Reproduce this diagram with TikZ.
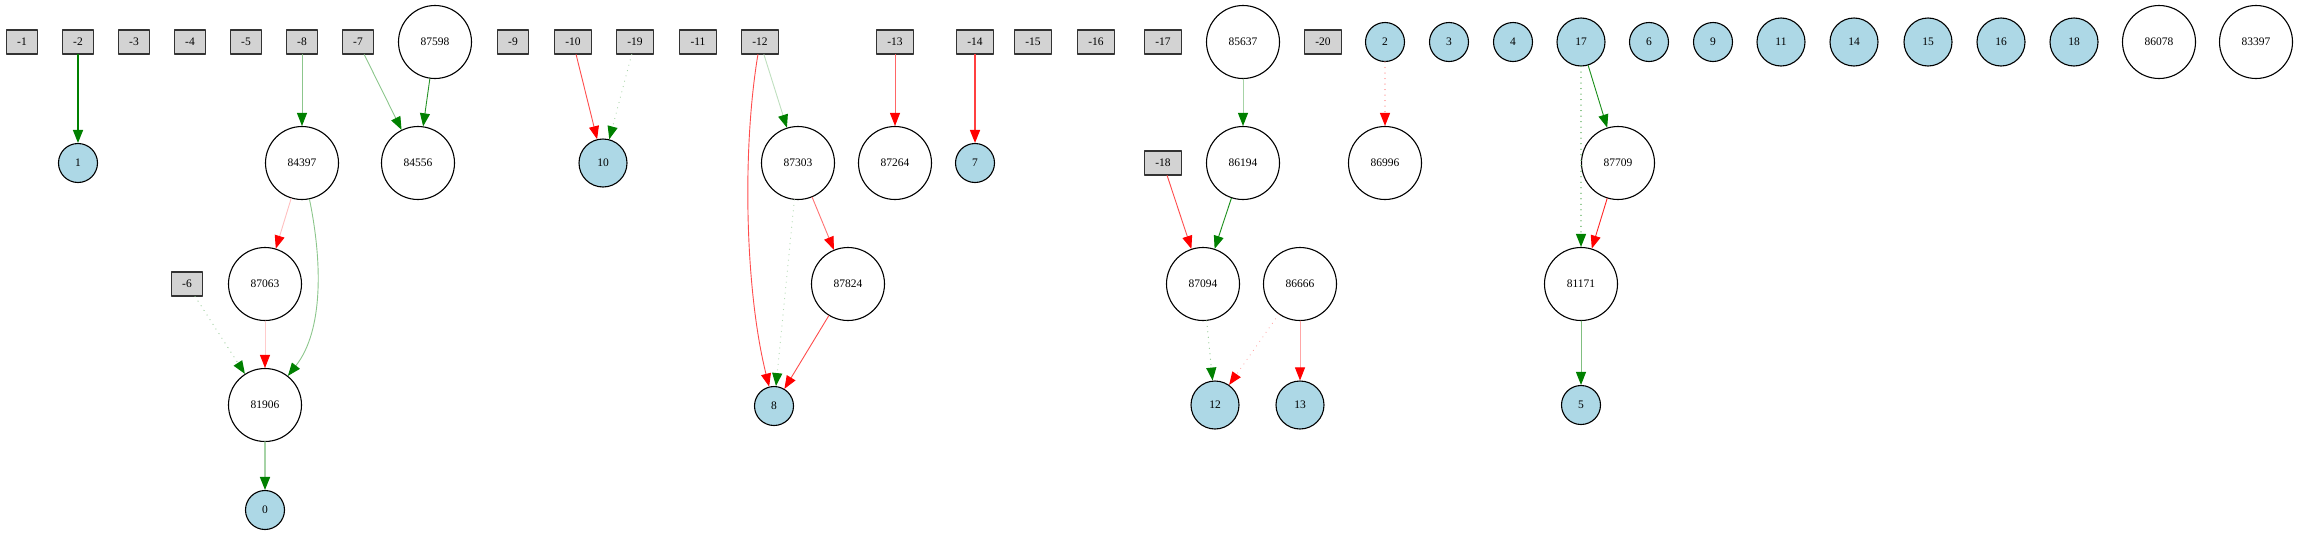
\documentclass[tikz,border=0pt]{standalone}
\usepackage{fontspec}
\setmainfont{Liberation Serif}
\usetikzlibrary{arrows.meta}
\definecolor{inputfill}{HTML}{D3D3D3}
\definecolor{outputfill}{HTML}{ADD8E6}
\definecolor{posgreen}{HTML}{008000}
\definecolor{negred}{HTML}{FF0000}
\tikzset{
  basenode/.style={
    draw=black,
    line width=1.1pt,
    inner sep=0pt,
    font=\fontsize{11.5}{13}\selectfont,
    align=center,
  },
  inbox/.style={basenode, rectangle, fill=inputfill, draw=black!80, minimum height=24pt, inner xsep=11pt},
  outnode/.style={basenode, circle, fill=outputfill, minimum size=39pt},
  outwide/.style={outnode, minimum size=48pt},
  hidnode/.style={basenode, circle, fill=white, minimum size=73pt},
  link/.style={line width=0.9pt},
  dotlink/.style={line width=1.2pt, dash pattern=on 0.01pt off 5.5pt},
  posedge/.style={link, draw=posgreen!#1, -{Triangle[length=13pt, width=10pt, color=posgreen]}},
  posedge/.default=100,
  negedge/.style={link, draw=negred!#1, -{Triangle[length=13pt, width=10pt, color=negred]}},
  negedge/.default=100,
}

\begin{document}
\begin{tikzpicture}[x=1pt, y=-1pt, line cap=round, line join=round]
  \useasboundingbox (0,0) rectangle (2300,536);

  % inputs and top row
  \foreach \n/\x in {-1/22, -2/78, -3/134, -4/190, -5/246, -8/302, -7/358, -9/513,
                     -10/573, -19/635, -11/698, -12/760, -13/895, -14/975, -15/1033,
                     -16/1096, -17/1163, -20/1323} {
    \node[inbox] (in\n) at (\x, 42) {\n};
  }
  \foreach \n/\x in {2/1385, 3/1449, 4/1513, 6/1649, 9/1713} {
    \node[outnode] (out\n) at (\x, 42) {\n};
  }
  \foreach \n/\x in {17/1581, 11/1781, 14/1854, 15/1928, 16/2001, 18/2074} {
    \node[outwide] (out\n) at (\x, 42) {\n};
  }
  \foreach \n/\x in {87598/435, 85637/1243, 86078/2159, 83397/2256} {
    \node[hidnode] (hid\n) at (\x, 42) {\n};
  }

  % second row
  \node[outnode] (out1) at (78, 163) {1};
  \node[hidnode] (hid84397) at (302, 163) {84397};
  \node[hidnode] (hid84556) at (418, 163) {84556};
  \node[outwide] (out10) at (603, 163) {10};
  \node[hidnode] (hid87303) at (798, 163) {87303};
  \node[hidnode] (hid87264) at (895, 163) {87264};
  \node[outnode] (out7) at (975, 163) {7};
  \node[inbox] (in-18) at (1163, 163) {-18};
  \node[hidnode] (hid86194) at (1243, 163) {86194};
  \node[hidnode] (hid86996) at (1385, 163) {86996};
  \node[hidnode] (hid87709) at (1618, 163) {87709};

  % third row
  \node[inbox] (in-6) at (187, 284) {-6};
  \node[hidnode] (hid87063) at (265, 284) {87063};
  \node[hidnode] (hid87824) at (848, 284) {87824};
  \node[hidnode] (hid87094) at (1203, 284) {87094};
  \node[hidnode] (hid86666) at (1300, 284) {86666};
  \node[hidnode] (hid81171) at (1581, 284) {81171};

  % fourth and fifth row
  \node[hidnode] (hid81906) at (265, 405) {81906};
  \node[outnode] (out8) at (774, 406) {8};
  \node[outwide] (out12) at (1215, 405) {12};
  \node[outwide] (out13) at (1300, 405) {13};
  \node[outnode] (out5) at (1581, 405) {5};
  \node[outnode] (out0) at (265, 510) {0};

  \draw[posedge, line width=1.6pt] (in-2) -- (out1);
  \draw[posedge=45] (in-8) -- (hid84397);
  \draw[posedge=45] (in-7) -- (hid84556);
  \draw[posedge=85] (hid87598) -- (hid84556);
  \draw[negedge=70] (in-10) -- (out10);
  \draw[posedge=35, dotlink] (in-19) -- (out10);
  \draw[posedge=25] (in-12) -- (hid87303);
  \draw[negedge=70] (in-12) .. controls (742,150) and (745,290) .. (out8);
  \draw[negedge=60] (in-13) -- (hid87264);
  \draw[negedge=75, line width=1.6pt] (in-14) -- (out7);
  \draw[posedge=35] (hid85637) -- (hid86194);
  \draw[negedge=35, dotlink] (out2) -- (hid86996);
  \draw[posedge=90] (out17) -- (hid87709);
  \draw[posedge=55, dotlink] (out17) -- (hid81171);
  \draw[negedge=85] (hid87709) -- (hid81171);
  \draw[negedge=70] (in-18) -- (hid87094);
  \draw[posedge=90] (hid86194) -- (hid87094);
  \draw[posedge=45, dotlink] (hid87094) -- (out12);
  \draw[negedge=35, dotlink] (hid86666) -- (out12);
  \draw[negedge=35] (hid86666) -- (out13);
  \draw[posedge=50] (hid81171) -- (out5);
  \draw[negedge=25] (hid84397) -- (hid87063);
  \draw[posedge=45] (hid84397) .. controls (322,260) and (324,330) .. (hid81906);
  \draw[posedge=50, dotlink] (in-6) -- (hid81906);
  \draw[negedge=20] (hid87063) -- (hid81906);
  \draw[posedge=35, line width=1.6pt] (hid81906) -- (out0);
  \draw[posedge=30, dotlink] (hid87303) -- (out8);
  \draw[negedge=55] (hid87303) -- (hid87824);
  \draw[negedge=70] (hid87824) -- (out8);
\end{tikzpicture}
\end{document}
